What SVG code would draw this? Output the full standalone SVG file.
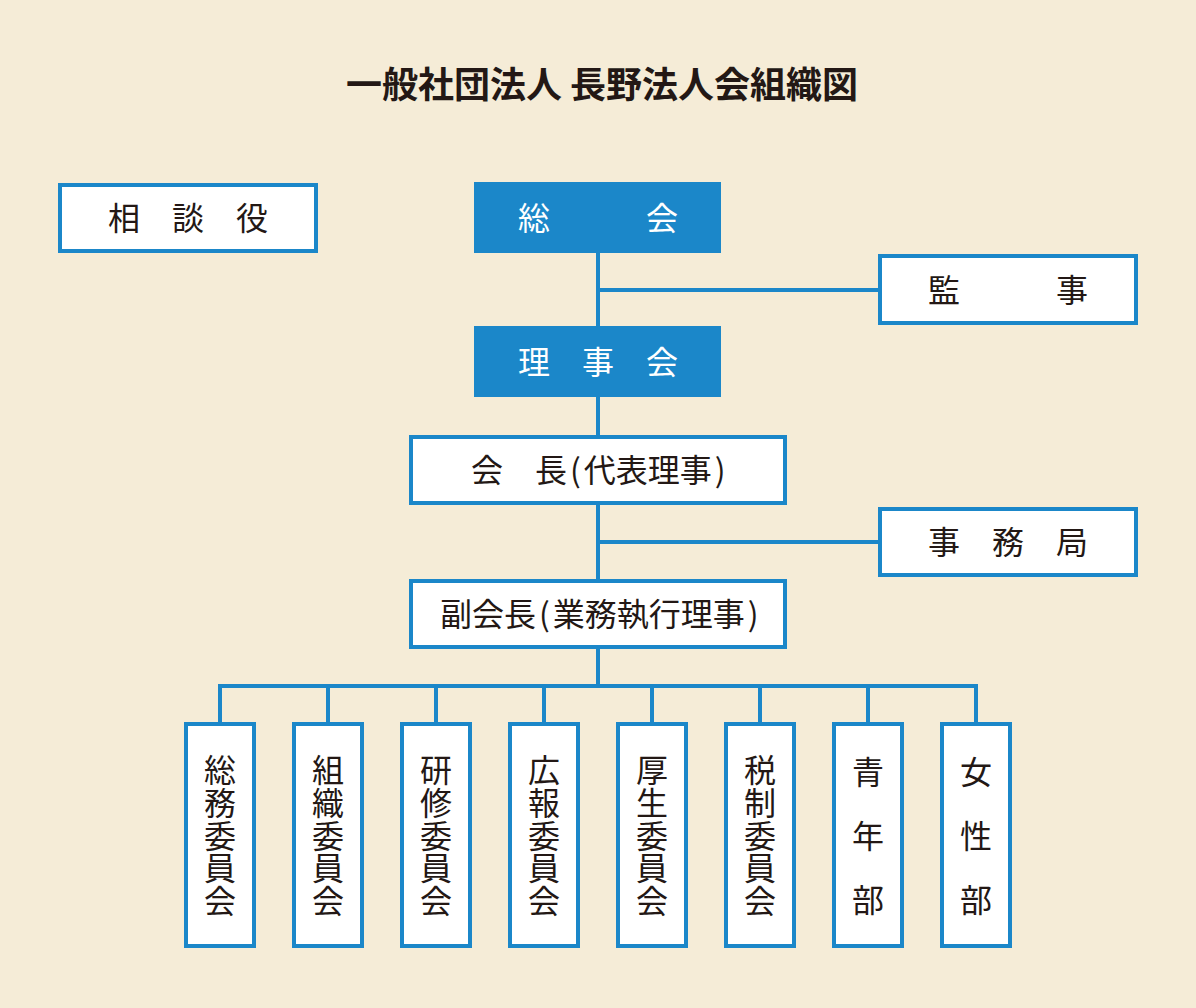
<svg xmlns="http://www.w3.org/2000/svg" width="1196" height="1008" viewBox="0 0 1196 1008">
<style>
.bg{fill:#f5ecd7}
.box{fill:#ffffff;stroke:#1b87c9;stroke-width:4}
.fbox{fill:#1b87c9}
.t{font-family:"Noto Sans CJK JP","Noto Sans CJK SC",sans-serif;font-size:32px;fill:#231815}
.w{fill:#ffffff}
.m{text-anchor:middle}
.v{writing-mode:vertical-rl;text-orientation:upright;letter-spacing:0.75px}
.v3{letter-spacing:32px}
.title{font-family:"Noto Sans CJK JP","Noto Sans CJK SC",sans-serif;font-size:36px;font-weight:700;fill:#231815;text-anchor:middle}
.ln{fill:none;stroke:#1b87c9;stroke-width:4}
</style>
<rect class="bg" x="0" y="0" width="1196" height="1008"/>
<text class="title" x="602" y="98">一般社団法人 長野法人会組織図</text>

<g id="connectors">
<line class="ln" x1="598" y1="253" x2="598" y2="326"/>
<line class="ln" x1="598" y1="290" x2="880" y2="290"/>
<line class="ln" x1="598" y1="397" x2="598" y2="437"/>
<line class="ln" x1="598" y1="505" x2="598" y2="581"/>
<line class="ln" x1="598" y1="542" x2="880" y2="542"/>
<line class="ln" x1="598" y1="649" x2="598" y2="686"/>
<path class="ln" d="M220 724V686H976V724" stroke-linejoin="miter"/>
<line class="ln" x1="328" y1="686" x2="328" y2="724"/>
<line class="ln" x1="436" y1="686" x2="436" y2="724"/>
<line class="ln" x1="544" y1="686" x2="544" y2="724"/>
<line class="ln" x1="652" y1="686" x2="652" y2="724"/>
<line class="ln" x1="760" y1="686" x2="760" y2="724"/>
<line class="ln" x1="868" y1="686" x2="868" y2="724"/>
</g>

<g id="soudanyaku">
<rect class="box" x="60" y="185" width="256" height="66"/>
<text class="t m" x="188" y="230">相　談　役</text>
</g>
<g id="soukai">
<rect class="fbox" x="474" y="182" width="247" height="71"/>
<text class="t w m" x="598" y="230">総　　　会</text>
</g>
<g id="kanji">
<rect class="box" x="880" y="256" width="256" height="67"/>
<text class="t m" x="1008" y="302">監　　　事</text>
</g>
<g id="rijikai">
<rect class="fbox" x="474" y="326" width="247" height="71"/>
<text class="t w m" x="598" y="374">理　事　会</text>
</g>
<g id="kaicho">
<rect class="box" x="411" y="437" width="374" height="66"/>
<text class="t" x="471" y="482">会　長<tspan dx="3">(</tspan><tspan dx="3">代表理事</tspan><tspan dx="3">)</tspan></text>
</g>
<g id="jimukyoku">
<rect class="box" x="880" y="509" width="256" height="66"/>
<text class="t m" x="1008" y="554">事　務　局</text>
</g>
<g id="fukukaicho">
<rect class="box" x="411" y="581" width="374" height="66"/>
<text class="t" x="440" y="626">副会長<tspan dx="3">(</tspan><tspan dx="3">業務執行理事</tspan><tspan dx="3">)</tspan></text>
</g>

<g id="somu">
<rect class="box" x="186" y="724" width="68" height="222"/>
<text class="t v" x="220" y="754">総務委員会</text>
</g>
<g id="soshiki">
<rect class="box" x="294" y="724" width="68" height="222"/>
<text class="t v" x="328" y="754">組織委員会</text>
</g>
<g id="kenshu">
<rect class="box" x="402" y="724" width="68" height="222"/>
<text class="t v" x="436" y="754">研修委員会</text>
</g>
<g id="koho">
<rect class="box" x="510" y="724" width="68" height="222"/>
<text class="t v" x="544" y="754">広報委員会</text>
</g>
<g id="kosei">
<rect class="box" x="618" y="724" width="68" height="222"/>
<text class="t v" x="652" y="754">厚生委員会</text>
</g>
<g id="zeisei">
<rect class="box" x="726" y="724" width="68" height="222"/>
<text class="t v" x="760" y="754">税制委員会</text>
</g>
<g id="seinenbu">
<rect class="box" x="834" y="724" width="68" height="222"/>
<text class="t v v3" x="868" y="756">青年部</text>
</g>
<g id="joseibu">
<rect class="box" x="942" y="724" width="68" height="222"/>
<text class="t v v3" x="976" y="756">女性部</text>
</g>
</svg>
